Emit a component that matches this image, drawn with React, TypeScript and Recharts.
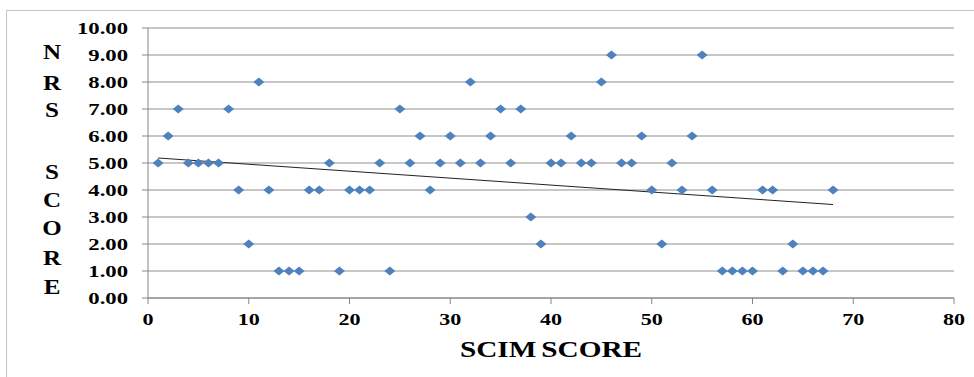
import { ScatterChart, Scatter, XAxis, YAxis, CartesianGrid, ReferenceLine } from "recharts"

// one point per patient: SCIM score on x, NRS score on y
const scimScores = [
  1, 2, 3, 4, 5, 6, 7, 8, 9, 10, 11, 12, 13, 14, 15, 16, 17, 18, 19, 20,
  21, 22, 23, 24, 25, 26, 27, 28, 29, 30, 31, 32, 33, 34, 35, 36, 37, 38, 39, 40,
  41, 42, 43, 44, 45, 46, 47, 48, 49, 50, 51, 52, 53, 54, 55, 56, 57, 58, 59, 60,
  61, 62, 63, 64, 65, 66, 67, 68,
]
const nrsScores = [
  5, 6, 7, 5, 5, 5, 5, 7, 4, 2, 8, 4, 1, 1, 1, 4, 4, 5, 1, 4,
  4, 4, 5, 1, 7, 5, 6, 4, 5, 6, 5, 8, 5, 6, 7, 5, 7, 3, 2, 5,
  5, 6, 5, 5, 8, 9, 5, 5, 6, 4, 2, 5, 4, 6, 9, 4, 1, 1, 1, 1,
  4, 4, 1, 2, 1, 1, 1, 4,
]
const xTicks = [0, 10, 20, 30, 40, 50, 60, 70, 80]
const yTicks = [0, 1, 2, 3, 4, 5, 6, 7, 8, 9, 10]
const yTitleLetters = ["N", "R", "S", "", "S", "C", "O", "R", "E"]

const points = scimScores.map((x, i) => ({ x, y: nrsScores[i] }))

// least squares trend line
const n = points.length
const mx = points.reduce((s, p) => s + p.x, 0) / n
const my = points.reduce((s, p) => s + p.y, 0) / n
const slope =
  points.reduce((s, p) => s + (p.x - mx) * (p.y - my), 0) /
  points.reduce((s, p) => s + (p.x - mx) ** 2, 0)
const intercept = my - slope * mx
const xMin = Math.min(...scimScores)
const xMax = Math.max(...scimScores)
const trend = [
  { x: xMin, y: intercept + slope * xMin },
  { x: xMax, y: intercept + slope * xMax },
]

const serif = "'Liberation Serif', 'Times New Roman', serif"

function Diamond(props: any) {
  const { cx, cy } = props
  if (cx == null || cy == null) return null
  return (
    <polygon
      points={`${cx - 5.5},${cy} ${cx},${cy - 4.5} ${cx + 5.5},${cy} ${cx},${cy + 4.5}`}
      fill="#4F81BD"
    />
  )
}

function YTick({ x, y, payload }: any) {
  return (
    <g transform={`translate(${x},${y})`}>
      <text transform="scale(1.42,1)" textAnchor="end" dy="0.355em" fontFamily={serif} fontWeight="bold" fontSize={16} fill="#000">
        {Number(payload.value).toFixed(2)}
      </text>
    </g>
  )
}

function XTick({ x, y, payload }: any) {
  return (
    <g transform={`translate(${x},${y})`}>
      <text transform="scale(1.38,1)" textAnchor="middle" dy="0.71em" fontFamily={serif} fontWeight="bold" fontSize={16} fill="#000">
        {payload.value}
      </text>
    </g>
  )
}

export default function App() {
  return (
    <div style={{ position: "absolute", left: 0, top: 0, width: 974, height: 377, overflow: "hidden", background: "#fff" }}>
      <div style={{ position: "absolute", left: 6, top: 10, width: 1000, height: 400, border: "1px solid #c4c4c4" }} />
      <div style={{ position: "absolute", left: 0, top: 0 }}>
        <ScatterChart width={974} height={377} margin={{ top: 28, right: 20, left: 48, bottom: 39 }}>
          <CartesianGrid horizontal vertical={false} stroke="#8f8f8f" />
          <XAxis
            type="number"
            dataKey="x"
            domain={[0, 80]}
            ticks={xTicks}
            height={40}
            stroke="#868686"
            tickSize={6}
            tickMargin={10}
            tick={<XTick />}
          />
          <YAxis
            type="number"
            dataKey="y"
            domain={[0, 10]}
            ticks={yTicks}
            width={100}
            stroke="#868686"
            tickSize={6}
            tickMargin={14}
            tick={<YTick />}
          />
          <Scatter data={points} shape={<Diamond />} isAnimationActive={false} />
          <ReferenceLine segment={trend} stroke="#222" strokeWidth={1} />
        </ScatterChart>
      </div>
      {yTitleLetters.map((ch, i) => (
        <div
          key={i}
          style={{
            position: "absolute",
            left: 32,
            width: 40,
            top: [42, 73, 100, 0, 162, 190, 218, 248, 277][i],
            textAlign: "center",
            fontFamily: serif,
            fontWeight: "bold",
            fontSize: 20,
            lineHeight: "20px",
            transform: "scaleX(1.25)",
          }}
        >
          {ch}
        </div>
      ))}
      <div
        style={{
          position: "absolute",
          left: 351,
          width: 400,
          top: 337,
          textAlign: "center",
          fontFamily: serif,
          fontWeight: "bold",
          fontSize: 24,
          lineHeight: "24px",
          transform: "scaleX(1.22)",
          wordSpacing: -2,
        }}
      >
        SCIM SCORE
      </div>
    </div>
  )
}
